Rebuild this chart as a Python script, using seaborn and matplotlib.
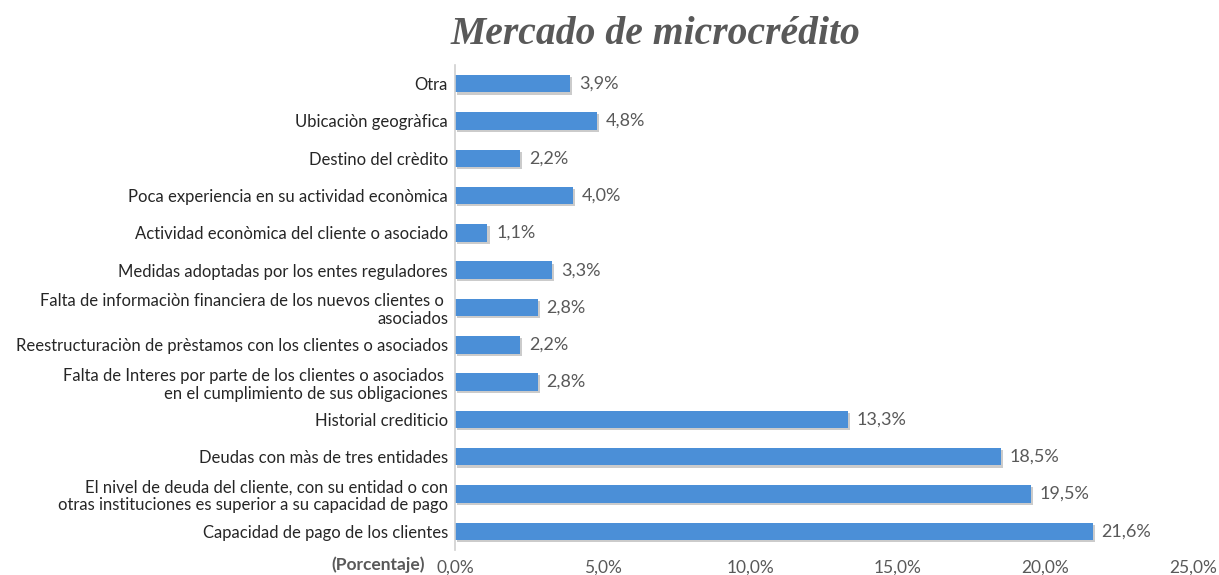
import matplotlib
matplotlib.use("Agg")
import matplotlib.pyplot as plt
import matplotlib.patheffects as pe
import seaborn as sns
import pandas as pd

categories = [
    "Otra",
    "Ubicaciòn geogràfica",
    "Destino del crèdito",
    "Poca experiencia en su actividad econòmica",
    "Actividad econòmica del cliente o asociado",
    "Medidas adoptadas por los entes reguladores",
    "Falta de informaciòn financiera de los nuevos clientes o \nasociados",
    "Reestructuraciòn de prèstamos con los clientes o asociados",
    "Falta de Interes por parte de los clientes o asociados \nen el cumplimiento de sus obligaciones",
    "Historial crediticio",
    "Deudas con màs de tres entidades",
    "El nivel de deuda del cliente, con su entidad o con\notras instituciones es superior a su capacidad de pago",
    "Capacidad de pago de los clientes",
]
values = [3.9, 4.8, 2.2, 4.0, 1.1, 3.3, 2.8, 2.2, 2.8, 13.3, 18.5, 19.5, 21.6]
xticks = [0, 5, 10, 15, 20, 25]

df = pd.DataFrame({"cat": categories, "val": values})

sns.set_theme(style="white")
plt.rcParams["font.family"] = ["Lato", "DejaVu Sans"]

fig = plt.figure(figsize=(12.19, 5.75), dpi=100)
ax = fig.add_axes([455 / 1219, 1 - 550 / 575, (1193 - 455) / 1219, (550 - 65) / 575])

sns.barplot(data=df, x="val", y="cat", orient="h", color="#4B8FD7",
            width=0.47, ax=ax, saturation=1, linewidth=0)
for p in ax.patches:
    p.set_linewidth(0)
    p.set_path_effects([pe.SimplePatchShadow(offset=(1.5, -1.5), shadow_rgbFace="#7f7f7f",
                                             alpha=0.4),
                        pe.Normal()])

gray = "#595959"
for i, v in enumerate(values):
    ax.text(v + 0.3, i, f"{v:.1f}%".replace(".", ","), va="center", ha="left",
            fontsize=13, color=gray)

ax.set_xlim(0, 25)
ax.set_ylim(len(categories) - 0.5, -0.5)
ax.set_xticks(xticks)
ax.set_xticklabels([f"{t:.1f}%".replace(".", ",") for t in xticks], fontsize=12.5, color=gray)
ax.set_yticklabels(categories, fontsize=12, color="#262626", linespacing=1.15)
ax.tick_params(axis="x", length=0, pad=7)
ax.tick_params(axis="y", length=0, pad=5)
ax.set_xlabel("")
ax.set_ylabel("")
for s in ["top", "right", "bottom"]:
    ax.spines[s].set_visible(False)
ax.spines["left"].set_color("#D0D0D0")
ax.spines["left"].set_linewidth(1.2)
ax.grid(False)

fig.text(425 / 1219, 1 - 565 / 575, "(Porcentaje)", ha="right", va="center",
         fontsize=12.5, fontweight="bold", color=gray)

fig.text(655 / 1219, 1 - 34 / 575, "Mercado de microcrédito", ha="center", va="center",
         fontsize=28.5, fontweight="bold", fontstyle="italic",
         family=["Liberation Serif", "DejaVu Serif"], color=gray)

fig.savefig("out.png", dpi=100)
